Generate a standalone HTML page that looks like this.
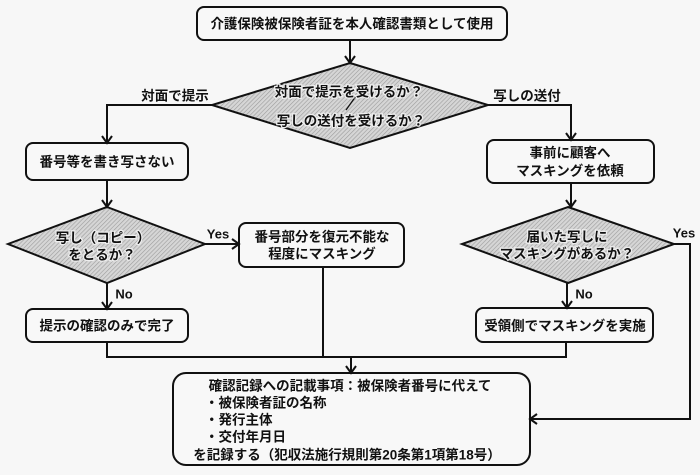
<!DOCTYPE html>
<html><head><meta charset="utf-8"><style>
html,body{margin:0;padding:0;background:#f7f7f7;}
svg{display:block;}
text{font-family:"Liberation Sans","Noto Sans CJK JP",sans-serif;font-weight:bold;fill:#111;}
</style></head><body>
<svg width="700" height="475" viewBox="0 0 700 475" xmlns="http://www.w3.org/2000/svg">
<defs>
<pattern id="h" width="3" height="3" patternUnits="userSpaceOnUse" patternTransform="rotate(45)">
<rect width="3" height="3" fill="#d6d6d6"/>
<line x1="0" y1="0" x2="0" y2="3" stroke="#9c9c9c" stroke-width="1.2"/>
</pattern>
</defs>
<rect width="700" height="475" fill="#f7f7f7"/>
<g fill="none" stroke="#111" stroke-width="2" stroke-linejoin="miter">
<!-- boxes -->
<rect x="197" y="7" width="310" height="33" rx="7" fill="#f8f8f8"/>
<rect x="26" y="143" width="162" height="37" rx="7" fill="#f8f8f8"/>
<rect x="239" y="223" width="165" height="44" rx="7" fill="#f8f8f8"/>
<rect x="26" y="309" width="162" height="33" rx="7" fill="#f8f8f8"/>
<rect x="487" y="140" width="167" height="43" rx="7" fill="#f8f8f8"/>
<rect x="476" y="308" width="177" height="34" rx="7" fill="#f8f8f8"/>
<rect x="173" y="373" width="357" height="92" rx="13" fill="#f8f8f8"/>
<!-- diamonds -->
<polygon points="350,63 488,105 350,148 212,105" fill="url(#h)"/>
<polygon points="107,207 205,244 107,283 8,244" fill="url(#h)"/>
<polygon points="568,207 674,244 568,283 462,244" fill="url(#h)"/>
<!-- connectors -->
<path d="M350 40 V63"/><path d="M345 56 L350 63 L355 56"/>
<path d="M212 105 H107 V143"/><path d="M102 136 L107 143 L112 136"/>
<path d="M488 105 H571 V140"/><path d="M566 133 L571 140 L576 133"/>
<path d="M107 180 V207"/><path d="M102 200 L107 207 L112 200"/>
<path d="M571 183 V207"/><path d="M566 200 L571 207 L576 200"/>
<path d="M205 244 H239"/><path d="M232 239 L239 244 L232 249"/>
<path d="M107 283 V309"/><path d="M102 302 L107 309 L112 302"/>
<path d="M567 283 V308"/><path d="M562 301 L567 308 L572 301"/>
<path d="M107 342 V357 H566 V342"/>
<path d="M323 267 V357"/>
<path d="M351 357 V373"/><path d="M346 366 L351 373 L356 366"/>
<path d="M674 244 H690 V419 H530"/><path d="M537 414 L530 419 L537 424"/>
<path d="M356 96 L346 110" stroke-width="1.3"/>
</g>
<g font-size="13.5" text-anchor="middle" dominant-baseline="central">
<text x="352" y="24">介護保険被保険者証を本人確認書類として使用</text>
<g stroke="#eeeeee" stroke-width="2.5" paint-order="stroke">
<text x="349" y="92">対面で提示を受けるか？</text>
<text x="351" y="121">写しの送付を受けるか？</text>
<text x="103" y="238">写し（コピー）</text>
<text x="102" y="255">をとるか？</text>
<text x="567" y="237">届いた写しに</text>
<text x="567" y="254">マスキングがあるか？</text>
</g>
<text x="175" y="96">対面で提示</text>
<text x="527" y="96">写しの送付</text>
<text x="107" y="162">番号等を書き写さない</text>
<text x="322" y="237">番号部分を復元不能な</text>
<text x="322" y="254">程度にマスキング</text>
<text x="107" y="326">提示の確認のみで完了</text>
<text x="570" y="153">事前に顧客へ</text>
<text x="570" y="171">マスキングを依頼</text>
<text x="565" y="326">受領側でマスキングを実施</text>
<text x="218" y="234" font-size="13">Yes</text>
<text x="684" y="233" font-size="13">Yes</text>
<text x="124" y="294" font-size="13">No</text>
<text x="584" y="294" font-size="13">No</text>
<text x="350" y="386">確認記録への記載事項：被保険者番号に代えて</text>
<text x="347" y="455">を記録する（犯収法施行規則第20条第1項第18号）</text>
</g>
<g font-size="13.5" dominant-baseline="central">
<text x="205" y="403">・被保険者証の名称</text>
<text x="205" y="420">・発行主体</text>
<text x="205" y="437">・交付年月日</text>
</g>
</svg>
</body></html>
